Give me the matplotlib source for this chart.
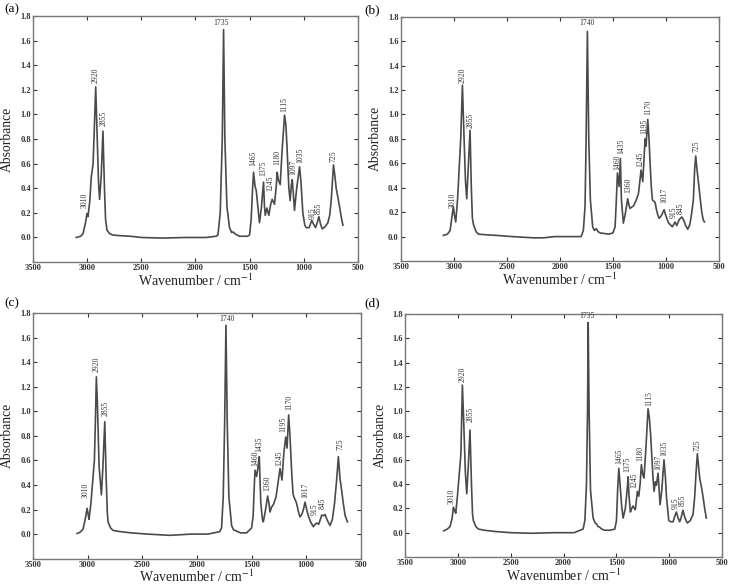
import matplotlib
matplotlib.use("Agg")
import matplotlib.pyplot as plt

plt.rcParams['font.family'] = ['Liberation Serif', 'DejaVu Serif']
plt.rcParams['mathtext.fontset'] = 'stix'

# ---- spectra: (wavenumber, absorbance) ----
wn_a = [3100, 3060, 3038, 3015, 3001, 2992, 2975, 2962, 2945, 2935, 2921, 2910, 2895, 2885, 2870,
        2854, 2840, 2830, 2817, 2790, 2762, 2700, 2600, 2500, 2300, 2100, 1900, 1810, 1792, 1771,
        1752, 1740, 1728, 1709, 1685, 1665, 1650, 1635, 1592, 1520, 1500, 1485, 1472, 1463, 1450,
        1438, 1420, 1408, 1390, 1371, 1362, 1355, 1340, 1322, 1305, 1291, 1270, 1255, 1245, 1235,
        1217, 1200, 1177, 1165, 1155, 1137, 1125, 1115, 1106, 1095, 1085, 1065, 1038, 1025, 1008,
        990, 977, 950, 925, 910, 891, 875, 860, 845, 829, 800, 777, 760, 746, 725,
        712, 700, 685, 669, 650, 638]
ab_a = [0.00, 0.01, 0.03, 0.12, 0.195, 0.17, 0.30, 0.49, 0.60, 0.85, 1.225, 0.90, 0.45, 0.31, 0.50,
        0.865, 0.40, 0.15, 0.06, 0.03, 0.02, 0.015, 0.01, 0.0, -0.005, 0.0, 0.0, 0.01, 0.02, 0.2,
        0.8, 1.69, 0.8, 0.25, 0.08, 0.04, 0.045, 0.03, 0.01, 0.01, 0.02, 0.15, 0.40, 0.53, 0.42,
        0.38, 0.22, 0.12, 0.25, 0.45, 0.25, 0.18, 0.24, 0.18, 0.27, 0.31, 0.27, 0.40, 0.53, 0.47,
        0.43, 0.70, 0.995, 0.92, 0.75, 0.40, 0.30, 0.42, 0.47, 0.35, 0.22, 0.40, 0.575, 0.45, 0.20,
        0.10, 0.08, 0.08, 0.14, 0.11, 0.08, 0.12, 0.17, 0.11, 0.07, 0.09, 0.12, 0.18, 0.30, 0.59,
        0.50, 0.40, 0.33, 0.25, 0.15, 0.10]

wn_b = [3098, 3060, 3035, 3015, 3004, 2995, 2982, 2965, 2950, 2935, 2919, 2905, 2890, 2878, 2862,
        2847, 2835, 2825, 2815, 2790, 2768, 2700, 2600, 2450, 2250, 2150, 2050, 1900, 1800, 1779,
        1763, 1753, 1741, 1728, 1713, 1691, 1675, 1658, 1640, 1620, 1540, 1500, 1480, 1468, 1458,
        1442, 1430, 1420, 1402, 1385, 1361, 1350, 1339, 1325, 1307, 1280, 1260, 1235, 1219, 1197,
        1188, 1172, 1160, 1150, 1138, 1128, 1115, 1103, 1090, 1078, 1065, 1045, 1018, 1005, 993,
        975, 962, 940, 915, 899, 875, 852, 835, 815, 795, 775, 760, 742, 730, 720,
        708, 695, 680, 663, 650, 638]
ab_b = [0.01, 0.02, 0.05, 0.18, 0.245, 0.18, 0.12, 0.30, 0.55, 0.80, 1.24, 0.85, 0.45, 0.31, 0.60,
        0.87, 0.40, 0.15, 0.10, 0.04, 0.02, 0.015, 0.01, 0.0, -0.01, -0.01, 0.0, 0.0, 0.0, 0.05,
        0.25, 0.8, 1.68, 0.8, 0.3, 0.08, 0.05, 0.065, 0.04, 0.03, 0.02, 0.03, 0.08, 0.30, 0.52,
        0.41, 0.64, 0.30, 0.11, 0.18, 0.31, 0.26, 0.23, 0.24, 0.25, 0.30, 0.35, 0.545, 0.45, 0.80,
        0.74, 0.96, 0.80, 0.60, 0.40, 0.30, 0.29, 0.28, 0.22, 0.18, 0.15, 0.17, 0.22, 0.18, 0.15,
        0.11, 0.10, 0.08, 0.12, 0.09, 0.14, 0.16, 0.14, 0.09, 0.06, 0.10, 0.18, 0.30, 0.55, 0.66,
        0.55, 0.45, 0.33, 0.20, 0.14, 0.12]

wn_c = [3097, 3070, 3042, 3020, 3005, 2995, 2987, 2970, 2950, 2938, 2928, 2920, 2910, 2895, 2874,
        2860, 2843, 2830, 2820, 2813, 2790, 2767, 2700, 2600, 2450, 2250, 2150, 2050, 1900, 1790,
        1774, 1759, 1746, 1734, 1722, 1707, 1682, 1665, 1652, 1600, 1545, 1499, 1485, 1475, 1468,
        1453, 1440, 1429, 1415, 1400, 1392, 1375, 1352, 1340, 1331, 1316, 1300, 1276, 1260, 1239,
        1221, 1205, 1187, 1175, 1160, 1148, 1132, 1120, 1111, 1100, 1087, 1070, 1056, 1040, 1025,
        1010, 995, 980, 960, 934, 918, 903, 885, 857, 840, 827, 805, 781, 760, 740,
        720, 705, 690, 674, 660, 643, 622]
ab_c = [0.005, 0.015, 0.04, 0.13, 0.21, 0.16, 0.12, 0.25, 0.47, 0.60, 0.95, 1.28, 1.05, 0.55, 0.32,
        0.55, 0.915, 0.45, 0.18, 0.10, 0.05, 0.03, 0.02, 0.01, 0.0, -0.01, -0.005, 0.0, 0.0, 0.02,
        0.05, 0.3, 0.9, 1.70, 0.9, 0.3, 0.07, 0.035, 0.03, 0.01, 0.01, 0.05, 0.15, 0.38, 0.52,
        0.47, 0.55, 0.63, 0.25, 0.12, 0.10, 0.18, 0.31, 0.25, 0.18, 0.22, 0.24, 0.30, 0.40, 0.535,
        0.44, 0.65, 0.79, 0.70, 0.97, 0.80, 0.50, 0.33, 0.30, 0.28, 0.25, 0.18, 0.14, 0.16, 0.20,
        0.26, 0.20, 0.15, 0.10, 0.06, 0.08, 0.09, 0.08, 0.155, 0.15, 0.16, 0.11, 0.07, 0.12, 0.25,
        0.45, 0.63, 0.45, 0.35, 0.25, 0.15, 0.10]

wn_d = [3135, 3100, 3075, 3055, 3043, 3030, 3021, 3005, 2986, 2972, 2958, 2945, 2930, 2917, 2902,
        2886, 2872, 2862, 2854, 2830, 2807, 2750, 2650, 2500, 2300, 2100, 1900, 1815, 1798, 1783,
        1773, 1767, 1758, 1745, 1720, 1700, 1688, 1672, 1657, 1640, 1609, 1560, 1515, 1499, 1488,
        1477, 1465, 1450, 1436, 1415, 1395, 1389, 1380, 1367, 1355, 1342, 1330, 1320, 1301, 1288,
        1275, 1263, 1250, 1238, 1220, 1200, 1188, 1175, 1153, 1143, 1130, 1121, 1105, 1095, 1086,
        1070, 1049, 1035, 1026, 1004, 985, 963, 945, 932, 915, 900, 885, 869, 850, 828,
        800, 774, 758, 745, 733, 722, 711, 700, 689, 675, 664, 648]
ab_d = [0.015, 0.03, 0.05, 0.12, 0.21, 0.18, 0.16, 0.30, 0.50, 0.65, 1.215, 0.90, 0.50, 0.32, 0.55,
        0.845, 0.40, 0.15, 0.10, 0.05, 0.03, 0.02, 0.01, 0.0, -0.005, 0.0, 0.0, 0.03, 0.1, 0.4,
        1.0, 1.73, 1.0, 0.35, 0.12, 0.08, 0.07, 0.05, 0.045, 0.03, 0.02, 0.02, 0.03, 0.10, 0.35,
        0.53, 0.40, 0.22, 0.12, 0.20, 0.38, 0.46, 0.30, 0.17, 0.20, 0.22, 0.20, 0.19, 0.34, 0.30,
        0.40, 0.56, 0.48, 0.45, 0.70, 1.02, 0.95, 0.80, 0.45, 0.34, 0.42, 0.39, 0.49, 0.35, 0.23,
        0.35, 0.60, 0.45, 0.30, 0.10, 0.09, 0.09, 0.14, 0.17, 0.12, 0.09, 0.13, 0.185, 0.12, 0.08,
        0.10, 0.15, 0.30, 0.50, 0.65, 0.55, 0.45, 0.40, 0.35, 0.27, 0.20, 0.12]

# ---- peak labels: text, wavenumber, absorbance (label centre) ----
lab_a = ["3010", "2920", "2855", "1735", "1465", "1375", "1245", "1180", "1115", "1097", "1035", "915", "855", "725"]
lx_a = [3023, 2922, 2848, 1762, 1463, 1377, 1309, 1248, 1177, 1100, 1029, 921, 860, 725]
ly_a = [0.30, 1.32, 0.97, 1.74, 0.64, 0.56, 0.44, 0.65, 1.08, 0.57, 0.67, 0.20, 0.235, 0.66]

lab_b = ["3010", "2920", "2855", "1740", "1460", "1435", "1360", "1245", "1195", "1170", "1017", "915", "845", "725"]
lx_b = [3013, 2919, 2837, 1741, 1464, 1424, 1354, 1244, 1204, 1163, 1015, 930, 858, 717]
ly_b = [0.30, 1.32, 0.95, 1.745, 0.61, 0.74, 0.42, 0.63, 0.90, 1.06, 0.34, 0.20, 0.23, 0.74]

lab_c = ["3010", "2920", "2855", "1740", "1460", "1435", "1360", "1245", "1195", "1170", "1017", "915", "845", "725"]
lx_c = [3017, 2920, 2834, 1728, 1468, 1429, 1355, 1245, 1209, 1157, 1004, 919, 848, 689]
ly_c = [0.36, 1.38, 1.02, 1.75, 0.62, 0.73, 0.41, 0.62, 0.89, 1.07, 0.36, 0.20, 0.25, 0.73]

lab_d = ["3010", "2920", "2855", "1735", "1465", "1375", "1245", "1180", "1115", "1097", "1035", "915", "855", "725"]
lx_d = [3059, 2958, 2882, 1783, 1477, 1395, 1326, 1269, 1190, 1105, 1042, 938, 869, 733]
ly_d = [0.30, 1.30, 0.97, 1.78, 0.63, 0.56, 0.43, 0.65, 1.10, 0.58, 0.69, 0.24, 0.27, 0.72]

panel_tags = ["(a)", "(b)", "(c)", "(d)"]
x_ticks = [3500, 3000, 2500, 2000, 1500, 1000, 500]
y_ticks = [0.0, 0.2, 0.4, 0.6, 0.8, 1.0, 1.2, 1.4, 1.6, 1.8]

fig = plt.figure(figsize=(7.3, 5.85), dpi=100)

boxes = [
    [0.0452, 0.552, 0.445, 0.4205],
    [0.549, 0.5538, 0.436, 0.4177],
    [0.0452, 0.045, 0.449, 0.420],
    [0.555, 0.0479, 0.434, 0.4153],
]
tag_pos = [(0.006, 0.984), (0.499, 0.982), (0.006, 0.481), (0.499, 0.481)]

spectra = [(wn_a, ab_a), (wn_b, ab_b), (wn_c, ab_c), (wn_d, ab_d)]
labels = [(lab_a, lx_a, ly_a), (lab_b, lx_b, ly_b), (lab_c, lx_c, ly_c), (lab_d, lx_d, ly_d)]

for i in range(4):
    ax = fig.add_axes(boxes[i])
    wn, ab = spectra[i]
    ax.plot(wn, ab, color='#4a4a4a', lw=1.2)
    ax.set_xlim(3500, 500)
    ax.set_ylim(-0.2, 1.8)
    ax.set_xticks(x_ticks)
    ax.set_yticks(y_ticks)
    ax.set_yticklabels(["%.1f" % v for v in y_ticks])
    ax.tick_params(direction='in', top=True, right=True, length=3, width=0.8,
                   labelsize=6, pad=1.5, colors='#333333')
    for t in ax.get_xticklabels() + ax.get_yticklabels():
        t.set_fontweight('bold')
    for s in ax.spines.values():
        s.set_color('#777777')
        s.set_linewidth(1.0)
    ax.set_xlabel("Wavenumber / cm$^{-1}$", fontsize=10, labelpad=0, color='#222222')
    ax.set_ylabel("Absorbance", fontsize=9.8, color='#222222')
    ax.yaxis.set_label_coords(-0.058, 0.5)

    texts, xs, ys = labels[i]
    for t, x, y in zip(texts, xs, ys):
        rot = 0 if t in ("1735", "1740") else 90
        ax.text(x, y, t, rotation=rot, fontsize=5.5, ha='center', va='center', color='#333333')

    fig.text(tag_pos[i][0], tag_pos[i][1], panel_tags[i], fontsize=9.5, ha='left', va='center')

fig.savefig("out.png", dpi=100)
